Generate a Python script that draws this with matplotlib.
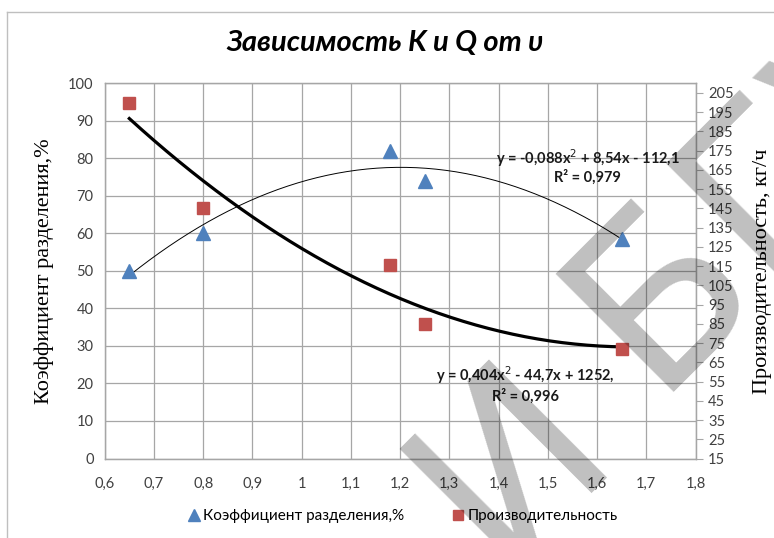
import numpy as np
import matplotlib
matplotlib.use('Agg')
import matplotlib.pyplot as plt
from matplotlib.lines import Line2D

# данные
v = [0.65, 0.8, 1.18, 1.25, 1.65]
k_sep = [50, 60, 82, 74, 58.5]          # коэффициент разделения, %
q_prod = [200, 145, 115.5, 85, 72]      # производительность, кг/ч

x_ticks = [0.6, 0.7, 0.8, 0.9, 1.0, 1.1, 1.2, 1.3, 1.4, 1.5, 1.6, 1.7, 1.8]
x_labels = ['0,6', '0,7', '0,8', '0,9', '1', '1,1', '1,2', '1,3', '1,4', '1,5', '1,6', '1,7', '1,8']
left_ticks = list(range(0, 101, 10))
right_ticks = list(range(15, 206, 10))

BLUE = '#4F81BD'
RED = '#C0504D'
GRID = '#a6a6a6'
TICK_FONT = 'Lato'

fig = plt.figure(figsize=(7.74, 5.38), dpi=100)
W, H = 774, 538


def box(x0, y0, x1, y1):
    return [x0 / W, 1 - y1 / H, (x1 - x0) / W, (y1 - y0) / H]


ax = fig.add_axes(box(104.7, 83.3, 695.5, 458.5))
ax2 = ax.twinx()

ax.set_xlim(0.6, 1.8)
ax.set_ylim(0, 100)
ax2.set_ylim(15, 210)

ax.set_xticks(x_ticks)
ax.set_xticklabels(x_labels, fontsize=10.5, family=TICK_FONT, color='#404040')
ax.set_yticks(left_ticks)
ax.set_yticklabels([str(t) for t in left_ticks], fontsize=10.5, family=TICK_FONT, color='#404040')
ax2.set_yticks(right_ticks)
ax2.set_yticklabels([str(t) for t in right_ticks], fontsize=10.5, family=TICK_FONT, color='#404040')

ax.tick_params(axis='both', length=0, pad=8)
ax.tick_params(axis='x', pad=13)
ax2.tick_params(axis='y', length=5, width=0.8, color=GRID, pad=4, direction='out')

ax.grid(True, color=GRID, linewidth=0.9)
ax.set_axisbelow(True)
for a in (ax, ax2):
    for s in a.spines.values():
        s.set_color(GRID)
        s.set_linewidth(0.9)

# линии тренда (полином 2-й степени)
xs = np.linspace(min(v), max(v), 200)
pk = np.polyfit(v, k_sep, 2)
pq = np.polyfit(v, q_prod, 2)
ax.plot(xs, np.polyval(pk, xs), color='black', lw=0.7, zorder=3)
ax2.plot(xs, np.polyval(pq, xs), color='black', lw=2.3, zorder=3)

ax.plot(v, k_sep, linestyle='none', marker='^', ms=10, color=BLUE, zorder=4)
ax2.plot(v, q_prod, linestyle='none', marker='s', ms=9, color=RED, zorder=4)

ax.set_ylabel('Коэффициент разделения,%', family='Liberation Serif', fontsize=16, labelpad=10)
ax2.set_ylabel('Производительность, кг/ч', family='Liberation Serif', fontsize=16, labelpad=14)

fig.text(385 / W, 1 - 43 / H, 'Зависимость K и Q от υ', ha='center', va='center',
         family='Lato', fontsize=21, fontweight='bold', style='italic')

eq_font = dict(family='Lato', fontsize=10.5, fontweight='bold', color='#1a1a1a')
fig.text(680 / W, 1 - 158 / H, 'y = -0,088x$^2$ + 8,54x - 112,1', ha='right', va='center', **eq_font)
fig.text(587 / W, 1 - 177 / H, 'R² = 0,979', ha='center', va='center', **eq_font)
fig.text(525 / W, 1 - 375 / H, 'y = 0,404x$^2$ - 44,7x + 1252,', ha='center', va='center', **eq_font)
fig.text(525 / W, 1 - 396 / H, 'R² = 0,996', ha='center', va='center', **eq_font)

# легенда
handles = [Line2D([], [], linestyle='none', marker='^', ms=8, color=BLUE),
           Line2D([], [], linestyle='none', marker='s', ms=7, color=RED)]
fig.legend(handles, ['Коэффициент разделения,%', 'Производительность'],
           loc='center', bbox_to_anchor=(402 / W, 1 - 516 / H), ncol=2, frameon=False,
           prop={'family': 'Lato', 'size': 11}, handletextpad=0.1, columnspacing=3.0,
           handlelength=1.0)

# рамка области диаграммы
fig.add_artist(Line2D([7 / W, 7 / W], [0, 1 - 12 / H], transform=fig.transFigure, color='#bfbfbf', lw=1))
fig.add_artist(Line2D([7 / W, 1], [1 - 12 / H, 1 - 12 / H], transform=fig.transFigure, color='#bfbfbf', lw=1))

# водяной знак
wm = dict(family='DejaVu Sans', fontsize=165, color='black', alpha=0.25,
          rotation=45, rotation_mode='anchor', zorder=10)
fig.text(652 / W, 1 - 392 / H, 'БГУИР', ha='left', va='baseline', **wm)
fig.text(512 / W, 1 - 462 / H, 'И', ha='center', va='center', **wm)

fig.savefig('out.png', dpi=100)
